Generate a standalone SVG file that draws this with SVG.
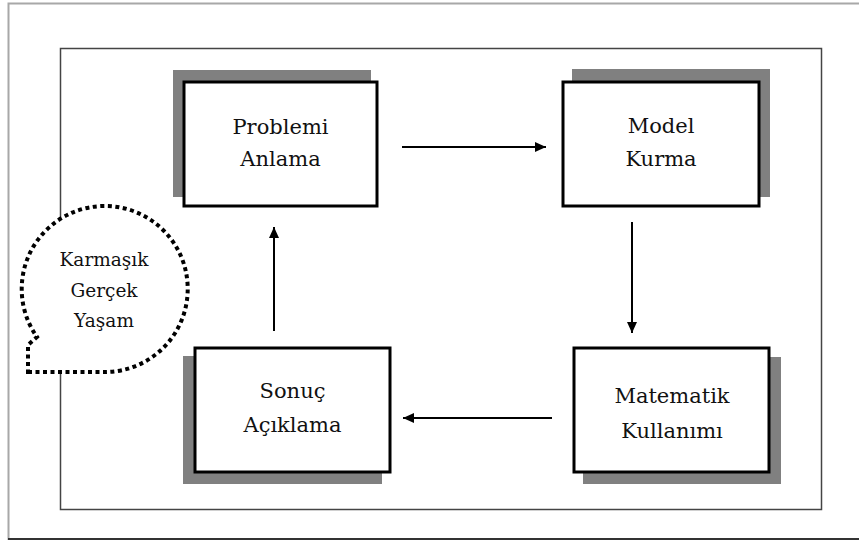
<svg xmlns="http://www.w3.org/2000/svg" width="859" height="540" viewBox="0 0 859 540">
  <defs>
    <style>
      .shadow { fill: #808080; }
      .box { fill: #ffffff; stroke: #000000; stroke-width: 3; }
      .lbl { font-family: "DejaVu Serif", "Liberation Serif", serif; font-size: 21px; fill: #111; text-anchor: middle; }
      .blbl { font-family: "DejaVu Serif", "Liberation Serif", serif; font-size: 18.5px; fill: #111; text-anchor: middle; }
      .conn { stroke: #000; stroke-width: 2; fill: none; marker-end: url(#arrow); }
    </style>
    <marker id="arrow" markerUnits="userSpaceOnUse" markerWidth="12" markerHeight="12" viewBox="0 0 12 12" refX="11" refY="6" orient="auto">
      <path d="M0,1 L11,6 L0,11 Z" fill="#000"/>
    </marker>
  </defs>
  <rect width="859" height="540" fill="#ffffff"/>
  <g id="frames">
    <rect x="8.5" y="3.5" width="870" height="560" fill="none" stroke="#a8a8a8" stroke-width="2"/>
    <line x1="8" y1="539" x2="859" y2="539" stroke="#333" stroke-width="2"/>
    <rect x="60.5" y="48.5" width="761" height="461" fill="none" stroke="#444" stroke-width="1.5"/>
  </g>
  <g id="connectors">
    <line class="conn" x1="402" y1="147" x2="546" y2="147"/>
    <line class="conn" x1="632" y1="222" x2="632" y2="333"/>
    <line class="conn" x1="552" y1="418" x2="403" y2="418"/>
    <line class="conn" x1="274" y1="331" x2="274" y2="227"/>
  </g>
  <g id="bubble">
    <path d="M28,372 L105,372 A83,83 0 1 0 37,337 L28,345 Z" fill="#ffffff" stroke="#000" stroke-width="4" stroke-dasharray="4 3.5"/>
    <text class="blbl" x="104" y="266">Karmaşık</text>
    <text class="blbl" x="104" y="297">Gerçek</text>
    <text class="blbl" x="104" y="327">Yaşam</text>
  </g>
  <g id="problemi-anlama">
    <rect class="shadow" x="173" y="70" width="198" height="127"/>
    <rect class="box" x="184" y="82" width="193" height="124"/>
    <text class="lbl" x="280.5" y="134">Problemi</text>
    <text class="lbl" x="280.5" y="166">Anlama</text>
  </g>
  <g id="model-kurma">
    <rect class="shadow" x="572" y="69" width="198" height="128"/>
    <rect class="box" x="563" y="82" width="196" height="124"/>
    <text class="lbl" x="661" y="133">Model</text>
    <text class="lbl" x="661" y="166">Kurma</text>
  </g>
  <g id="sonuc-aciklama">
    <rect class="shadow" x="183" y="356" width="199" height="128"/>
    <rect class="box" x="195" y="348" width="195" height="124"/>
    <text class="lbl" x="292.5" y="398">Sonuç</text>
    <text class="lbl" x="292.5" y="432">Açıklama</text>
  </g>
  <g id="matematik-kullanimi">
    <rect class="shadow" x="583" y="357" width="198" height="127"/>
    <rect class="box" x="574" y="348" width="195" height="124"/>
    <text class="lbl" x="672" y="403">Matematik</text>
    <text class="lbl" x="672" y="438">Kullanımı</text>
  </g>
</svg>
